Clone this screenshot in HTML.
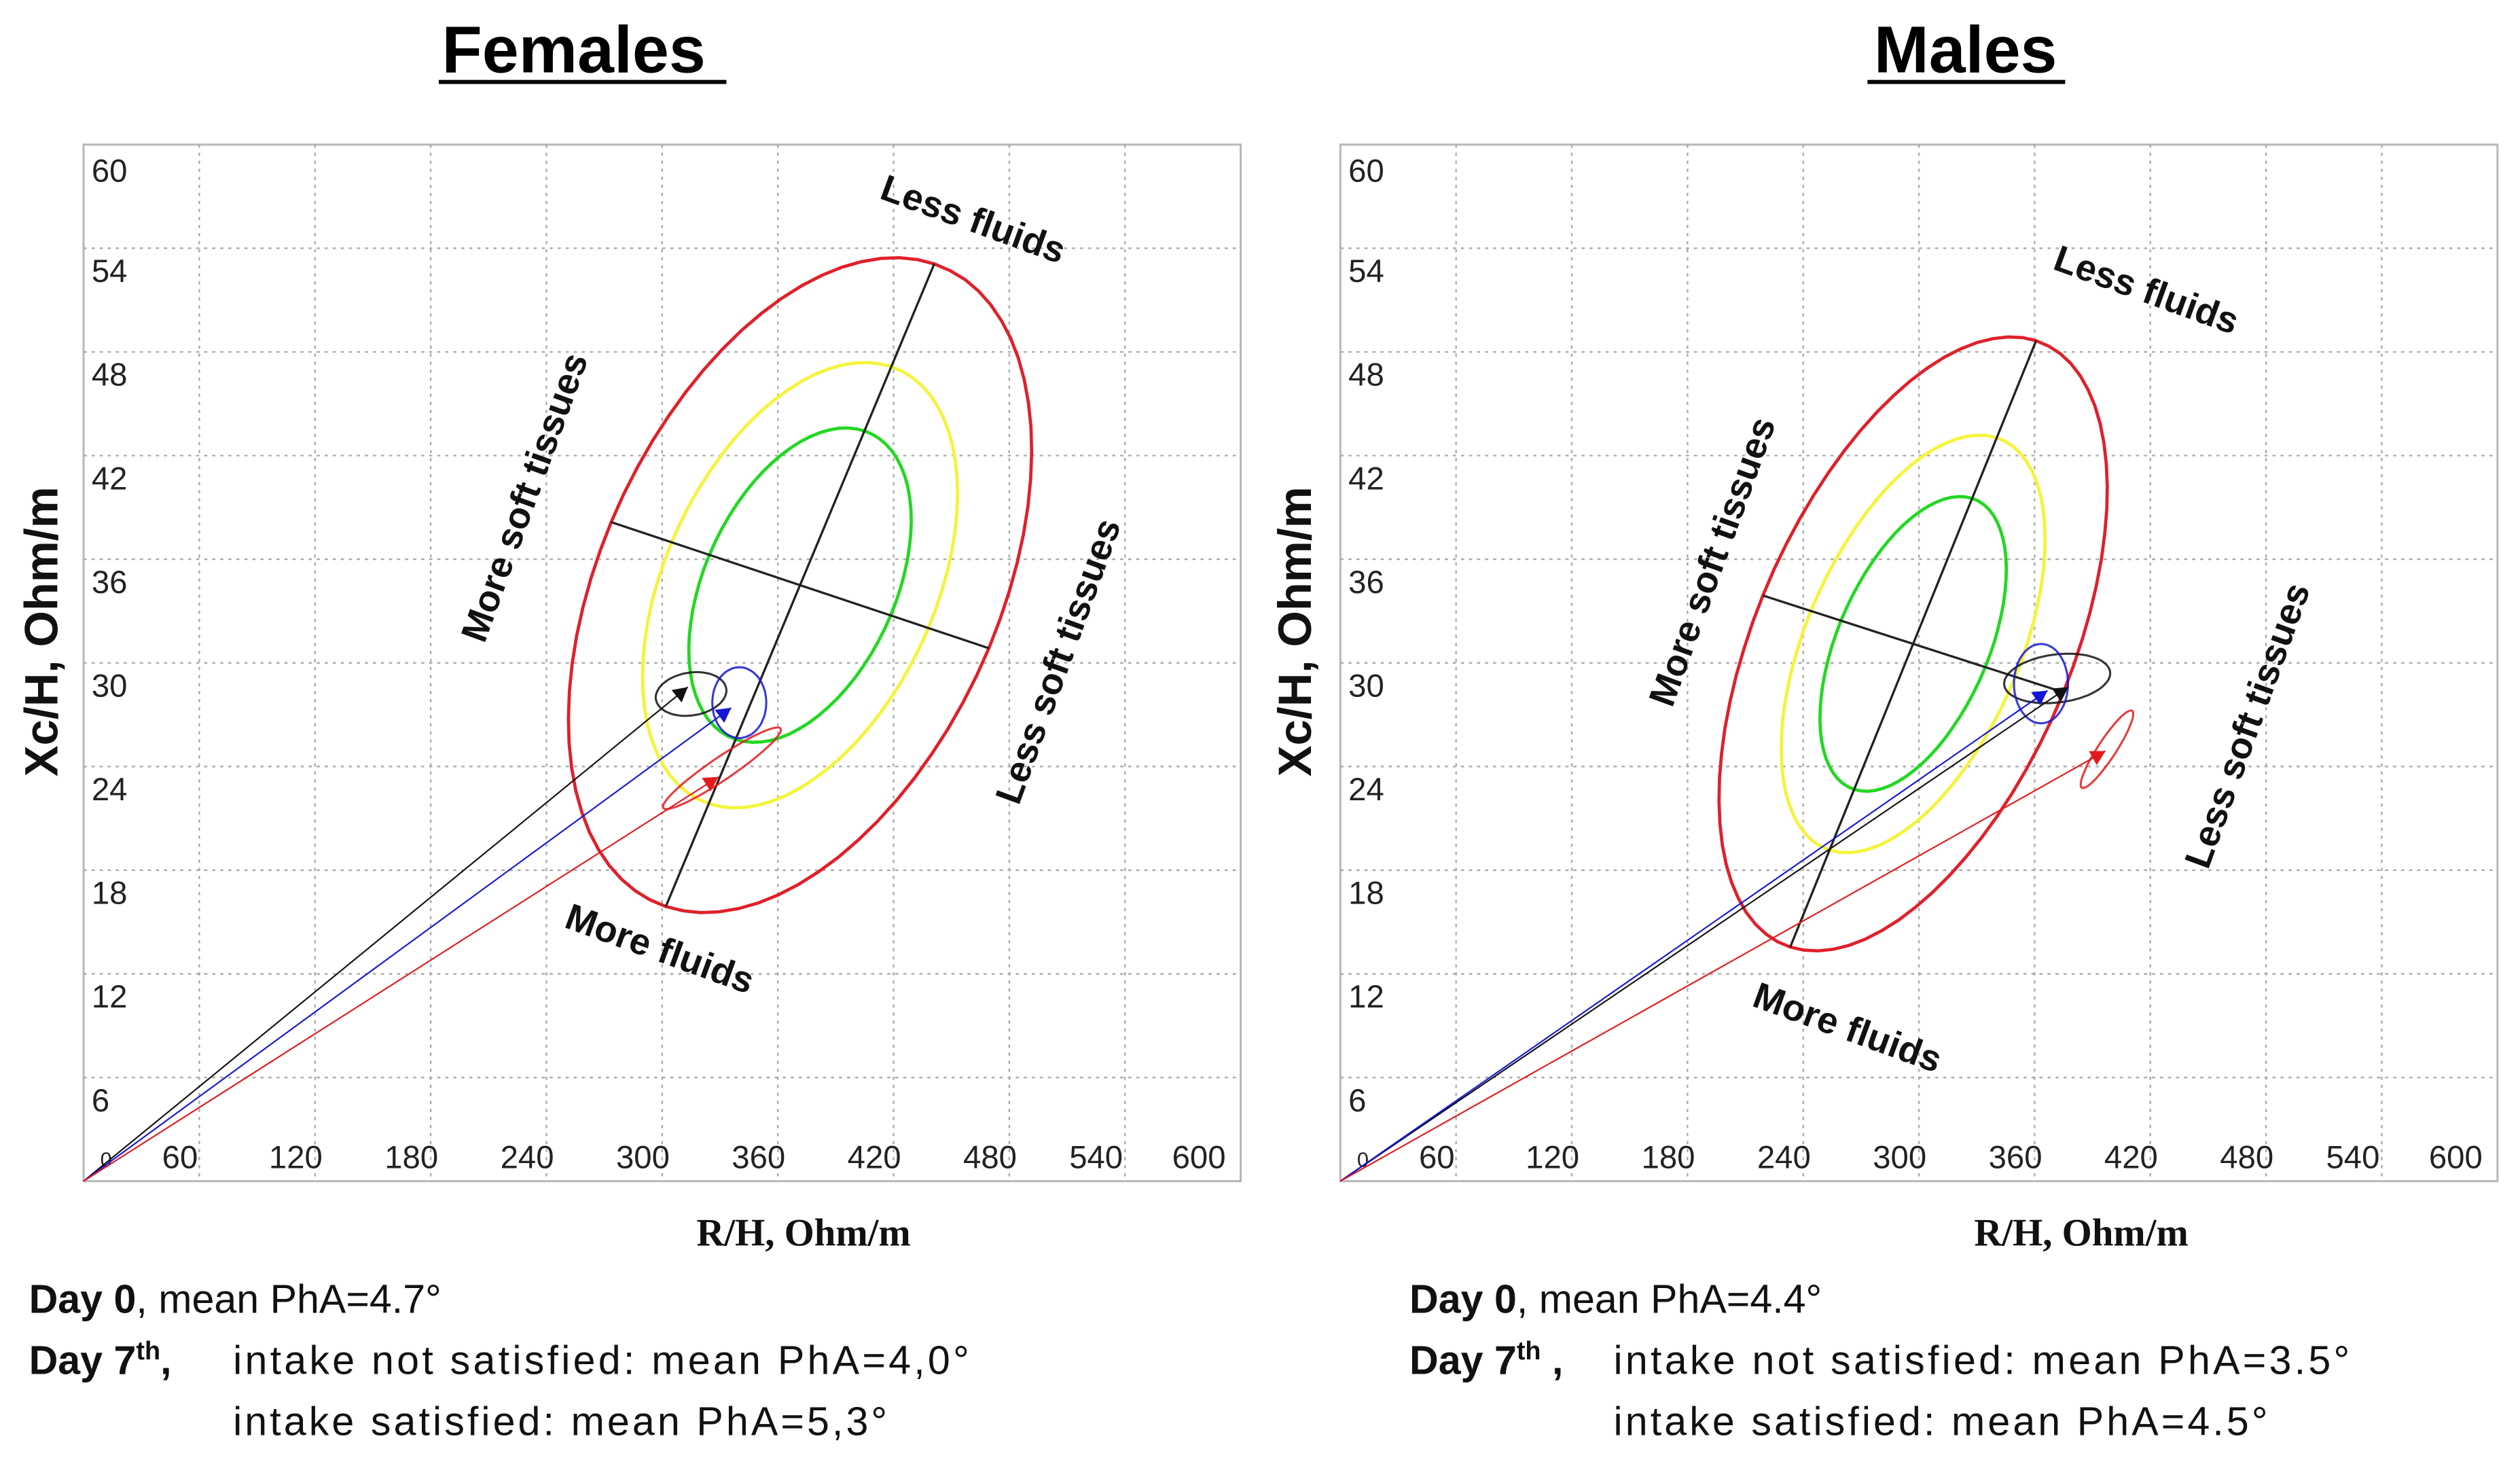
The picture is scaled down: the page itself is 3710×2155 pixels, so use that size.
<!DOCTYPE html>
<html><head><meta charset="utf-8"><style>
html,body{margin:0;padding:0;background:#fff;}
svg{display:block;}
text{font-family:"Liberation Sans",sans-serif;}
text.serif{font-family:"Liberation Serif",serif;}
</style></head><body>
<svg id="fig" width="3710" height="2155" viewBox="0 0 1568 911" preserveAspectRatio="none" xmlns="http://www.w3.org/2000/svg">
<rect x="0" y="0" width="1568" height="911" fill="#fff"/>
</svg>
<script>
// ---- data ----
const xTicks = [60,120,180,240,300,360,420,480,540,600];
const yTicks = [6,12,18,24,30,36,42,48,54,60];
const ellipseLevels = [0.48, 0.68, 1.0];
const ellipseColors = ['#22d822','#f4f43a','#e0202a'];
// Female reference ellipse (data units): center, major half-vector, minor half-vector
const femCenter = [371.5, 34.5];
const femMajor = [69.6, 18.6];
const femMinor = [97.9, -3.65];
// Male reference ellipse
const maleCenter = [297, 31.1];
const maleMajor = [63.75, 17.55];
const maleMinor = [77.9, -2.8];
// Vectors (mean points): day0 black, satisfied blue, not satisfied red
const femPoints = [[313.3,28.6],[335.8,27.4],[329.2,23.4]];
const malePoints = [[377.5,28.6],[366.7,28.4],[396.7,24.9]];
const pointColors = ['#111','#1515d8','#e31a1c'];
const pointNames = ['day0','day7-intake-satisfied','day7-intake-not-satisfied'];
// Confidence ellipses of the means: center, half-vector a, half-vector b
const femConf = [[[315,28.2],[18.3,0.2],[0,1.25]],[[340,27.7],[14,0],[0,2.05]],[[331,23.9],[30.4,2.3],[3.3,-0.54]]];
const maleConf = [[[371.7,29.1],[27.5,0.3],[0,1.4]],[[363.3,28.8],[14,0],[0,2.3]],[[397.5,25.0],[13.3,2.2],[3,-0.45]]];

const NS='http://www.w3.org/2000/svg';
const svg=document.getElementById('fig');
function el(tag,attrs,parent){const e=document.createElementNS(NS,tag);for(const k in attrs)e.setAttribute(k,attrs[k]);(parent||svg).appendChild(e);return e;}

function panel(p){
  const g=el('g',{});
  
  
  const L=p.left,T=90,R=p.left+720,B=735;
  const sx=v=>L+v*1.2, sy=v=>B-v*10.75;
  const border=el('rect',{x:L,y:T,width:720,height:645,fill:'#fff',stroke:'#b8b8b8','stroke-width':1.3},g);
  
  
  xTicks.forEach((t,i)=>{
    if(t<600){const ln=el('line',{x1:sx(t),y1:T,x2:sx(t),y2:B,stroke:'#aaa','stroke-dasharray':'2 3','stroke-width':1},g);
    
    }
    const tx=el('text',{x:sx(t)-12+(i>=8?-6:0)+(i==9?-8:0),y:727,'font-size':20,'text-anchor':'middle',fill:'#222'},g);
    tx.textContent=t;
    
    
  });
  yTicks.forEach(t=>{
    if(t<60){const ln=el('line',{x1:L,y1:sy(t),x2:R,y2:sy(t),stroke:'#aaa','stroke-dasharray':'2 3','stroke-width':1},g);
    
    }
    const tx=el('text',{x:L+5,y:sy(t)+(t==60?23:21),'font-size':20,fill:'#222'},g);
    tx.textContent=t;
    
    
  });
  const z=el('text',{x:L+14,y:726,'font-size':13,'text-anchor':'middle',fill:'#222'},g);z.textContent='0';
  
  
  function ellPath(c,a,b,k){let d='';for(let i=0;i<=72;i++){const t=i/72*2*Math.PI;const x=c[0]+k*(a[0]*Math.cos(t)+b[0]*Math.sin(t));const y=c[1]+k*(a[1]*Math.cos(t)+b[1]*Math.sin(t));d+=(i?'L':'M')+sx(x).toFixed(1)+' '+sy(y).toFixed(1);}return d+'Z';}
  ellipseLevels.forEach((k,i)=>{
    const e=el('path',{d:ellPath(p.c,p.maj,p.min,k),fill:'none',stroke:ellipseColors[i],'stroke-width':2},g);
    
    
  });
  const ax1=el('line',{x1:sx(p.c[0]-p.maj[0]),y1:sy(p.c[1]-p.maj[1]),x2:sx(p.c[0]+p.maj[0]),y2:sy(p.c[1]+p.maj[1]),stroke:'#222','stroke-width':1.4},g);
  
  
  const ax2=el('line',{x1:sx(p.c[0]-p.min[0]),y1:sy(p.c[1]-p.min[1]),x2:sx(p.c[0]+p.min[0]),y2:sy(p.c[1]+p.min[1]),stroke:'#222','stroke-width':1.4},g);
  
  
  p.conf.forEach((c,i)=>{
    const e=el('path',{d:ellPath(c[0],c[1],c[2],1),fill:'none',stroke:pointColors[i],'stroke-width':1.3,opacity:0.85},g);
    
    
  });
  p.pts.forEach((pt,i)=>{
    const x2=sx(pt[0]),y2=sy(pt[1]);
    const ln=el('line',{x1:L,y1:B,x2:x2,y2:y2,stroke:pointColors[i],'stroke-width':0.9},g);
    
    
    const ang=Math.atan2(y2-B,x2-L);const s=9,w=5;
    const bx=x2-s*Math.cos(ang),by=y2-s*Math.sin(ang);
    const hd=el('polygon',{points:`${x2},${y2} ${bx-w*Math.sin(ang)},${by+w*Math.cos(ang)} ${bx+w*Math.sin(ang)},${by-w*Math.cos(ang)}`,fill:pointColors[i]},g);
    
    
  });
  p.labels.forEach(l=>{
    const t=el('text',{x:l[1],y:l[2],'font-size':23,'font-weight':'bold','text-anchor':'middle','dominant-baseline':'middle',transform:`rotate(${l[3]} ${l[1]} ${l[2]})`,fill:'#111'},g);
    t.textContent=l[0];
    
    
  });
  const yt=el('text',{x:p.yx,y:393,'font-size':29,'font-weight':'bold','text-anchor':'middle','dominant-baseline':'middle',transform:`rotate(-90 ${p.yx} 393)`,fill:'#111'},g);
  yt.textContent='Xc/H, Ohm/m';
  
  
  const xt=el('text',{x:p.xx,y:775,'font-size':24,'font-weight':'bold','text-anchor':'middle','class':'serif',fill:'#111'},g);
  xt.textContent='R/H, Ohm/m';
  
  
  const ti=el('text',{x:p.tx,y:45,'font-size':41,'font-weight':'bold','text-anchor':'middle',fill:'#000'},g);
  ti.textContent=p.title;
  
  
  const ul=el('line',{x1:p.ul0,y1:51,x2:p.ul1,y2:51,stroke:'#000','stroke-width':2.5},g);
  
  
  // caption
  const c1=el('text',{x:p.capx,y:817,'font-size':25,fill:'#111'},g);
  c1.innerHTML='<tspan font-weight="bold">Day 0</tspan>, mean PhA='+p.d0+'°';
  
  
  const c2=el('text',{x:p.capx,y:855,'font-size':25,fill:'#111'},g);
  c2.innerHTML='<tspan font-weight="bold">Day 7<tspan font-size="16" dy="-9">th</tspan><tspan dy="9">'+p.comma+'</tspan></tspan>';
  
  
  const c3=el('text',{x:p.cap2x,y:855,'font-size':25,fill:'#111',textLength:p.len1},g);
  c3.textContent='intake not satisfied: mean PhA='+p.ns+'°';
  
  
  const c4=el('text',{x:p.cap2x,y:893,'font-size':25,fill:'#111',textLength:p.len2},g);
  c4.textContent='intake satisfied: mean PhA='+p.s+'°';
  
  
}
panel({key:'females',title:'Females',left:52,c:femCenter,maj:femMajor,min:femMinor,conf:femConf,pts:femPoints,yx:28,xx:500,tx:357,ul0:273,ul1:452,
 labels:[['Less fluids',605,138,20],['More fluids',410,592,20],['More soft tissues',328,310,-70],['Less soft tissues',660,412,-70]],
 capx:18,cap2x:145,d0:'4.7',ns:'4,0',s:'5,3',comma:',',len1:458,len2:407});
panel({key:'males',title:'Males',left:834,c:maleCenter,maj:maleMajor,min:maleMinor,conf:maleConf,pts:malePoints,yx:808,xx:1295,tx:1223,ul0:1162,ul1:1285,
 labels:[['Less fluids',1335,182,20],['More fluids',1149,641,20],['More soft tissues',1067,350,-70],['Less soft tissues',1400,452,-70]],
 capx:877,cap2x:1004,d0:'4.4',ns:'3.5',s:'4.5',comma:' ,',len1:458,len2:407});
</script>
</body></html>
